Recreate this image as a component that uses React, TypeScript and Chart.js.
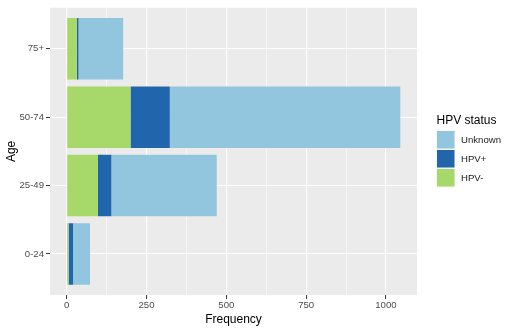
import React, { useEffect, useRef } from 'react';
import { Chart, registerables } from 'chart.js';

Chart.register(...registerables);

const ageGroups = ['0-24', '25-49', '50-74', '75+'];
const hpvNegative = [6, 98, 200, 32];
const hpvPositive = [14, 42, 123, 5];
const unknownStatus = [53, 330, 722, 140];
const xTickValues = [0, 125, 250, 375, 500, 625, 750, 875, 1000];
const statusLabels = ['HPV-', 'HPV+', 'Unknown'];
const statusColors = ['#A6D96A', '#2166AC', '#92C5DE'];
const legendTitle = 'HPV status';
const xTitle = 'Frequency';
const yTitle = 'Age';

const FONT = '"Liberation Sans", Arial, Helvetica, sans-serif';
const TICK_SIZE = 9.6;
const TITLE_SIZE = 12;

export default function App() {
  const ref = useRef<HTMLCanvasElement | null>(null);

  useEffect(() => {
    if (!ref.current) return;
    const totals = ageGroups.map((_, i) => hpvNegative[i] + hpvPositive[i] + unknownStatus[i]);
    const maxTotal = Math.max(...totals);
    const expand = maxTotal * 0.05;

    const panelPlugin = {
      id: 'panelBg',
      beforeDraw(chart: any) {
        const { ctx, chartArea } = chart;
        ctx.save();
        ctx.fillStyle = '#FFFFFF';
        ctx.fillRect(0, 0, chart.width, chart.height);
        ctx.fillStyle = '#EBEBEB';
        ctx.fillRect(chartArea.left, chartArea.top, chartArea.right - chartArea.left, chartArea.bottom - chartArea.top);
        ctx.restore();
      },
      afterDraw(chart: any) {
        const { ctx, chartArea } = chart;
        const x0 = chartArea.right + 19.5;
        ctx.save();
        ctx.textBaseline = 'middle';
        ctx.textAlign = 'left';
        ctx.fillStyle = '#000000';
        ctx.font = `${TITLE_SIZE}px ${FONT}`;
        ctx.fillText(legendTitle, x0, 121);
        const order = [2, 1, 0];
        order.forEach((di, k) => {
          const y = 130.5 + k * 19;
          ctx.fillStyle = '#F2F2F2';
          ctx.fillRect(x0, y, 18.5, 18.5);
          ctx.fillStyle = statusColors[di];
          ctx.fillRect(x0 + 0.5, y + 0.5, 17.5, 17.5);
          ctx.fillStyle = '#1A1A1A';
          ctx.font = `${TICK_SIZE}px ${FONT}`;
          ctx.fillText(statusLabels[di], x0 + 24.5, y + 9.5);
        });
        ctx.restore();
      },
    };

    const datasets = [hpvNegative, hpvPositive, unknownStatus].map((d, i) => ({
      label: statusLabels[i],
      data: d,
      backgroundColor: statusColors[i],
      borderWidth: 0,
      barPercentage: 0.9,
      categoryPercentage: 1,
    }));

    const chart = new Chart(ref.current, {
      type: 'bar',
      data: { labels: ageGroups, datasets },
      plugins: [panelPlugin],
      options: {
        indexAxis: 'y',
        animation: false,
        responsive: false,
        layout: { padding: { top: 5, right: 96, left: 0, bottom: 0 } },
        plugins: { legend: { display: false }, tooltip: { enabled: false } },
        scales: {
          x: {
            type: 'linear',
            stacked: true,
            min: -expand,
            max: maxTotal + expand,
            afterBuildTicks: (s: any) => {
              s.ticks = xTickValues.map((v) => ({ value: v }));
            },
            afterFit: (s: any) => {
              s.height = 35;
            },
            border: { display: false },
            grid: {
              color: '#FFFFFF',
              lineWidth: (c: any) => (c.tick && c.tick.value % 250 === 0 ? 1.1 : 0.55),
              tickColor: (c: any) => (c.tick && c.tick.value % 250 === 0 ? '#333333' : 'rgba(0,0,0,0)'),
              tickLength: 4,
              tickWidth: 1,
            },
            ticks: {
              autoSkip: false,
              maxRotation: 0,
              padding: 1,
              color: '#4D4D4D',
              font: { family: FONT, size: TICK_SIZE },
              callback: (v: any) => (Number(v) % 250 === 0 ? String(v) : ''),
            },
            title: {
              display: true,
              text: xTitle,
              color: '#000000',
              font: { family: FONT, size: TITLE_SIZE },
              padding: { top: 0, bottom: 3 },
            },
          },
          y: {
            type: 'category',
            stacked: true,
            reverse: true,
            afterBuildTicks: (s: any) => {
              s._startValue = -0.6;
              s._valueRange = ageGroups.length - 1 + 1.2;
            },
            afterFit: (s: any) => {
              s.width = 50;
            },
            border: { display: false },
            grid: {
              color: '#FFFFFF',
              lineWidth: 1.1,
              tickColor: '#333333',
              tickLength: 4,
              tickWidth: 1,
              offset: false,
            },
            ticks: {
              padding: 2,
              color: '#4D4D4D',
              font: { family: FONT, size: TICK_SIZE },
            },
            title: {
              display: true,
              text: yTitle,
              color: '#000000',
              font: { family: FONT, size: TITLE_SIZE },
              padding: { top: 4, bottom: 4 },
            },
          },
        },
      },
    });
    return () => chart.destroy();
  }, []);

  return (
    <div style={{ position: 'fixed', left: 0, top: 0, width: 513, height: 330, background: '#fff' }}>
      <canvas ref={ref} width={513} height={330} style={{ width: 513, height: 330, display: 'block' }} />
    </div>
  );
}
